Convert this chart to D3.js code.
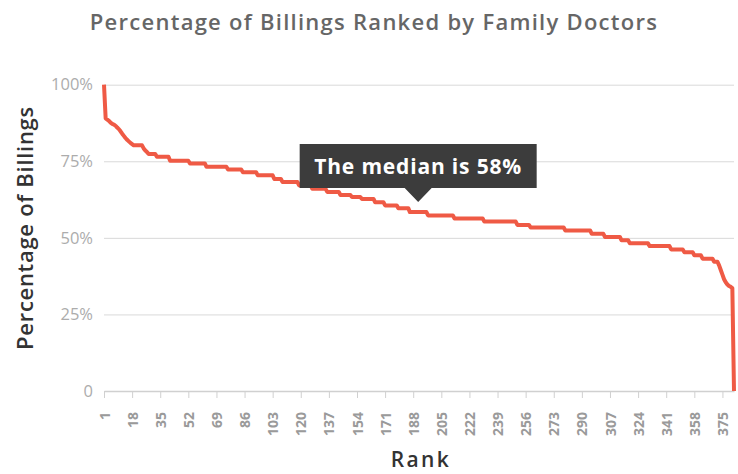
<!DOCTYPE html>
<html>
<head>
<meta charset="utf-8">
<script src="https://cdn.jsdelivr.net/npm/d3@7"></script>
<style>
  html, body { margin: 0; padding: 0; background: #fff; }
  svg { display: block; }
</style>
</head>
<body>
<svg id="chart" width="738" height="474"></svg>
<script>
// ---- data ----
const chartTitle = "Percentage of Billings Ranked by Family Doctors";
const yAxisTitle = "Percentage of Billings";
const xAxisTitle = "Rank";
// percentage of billings for each family doctor, ordered by rank 1..382
const billingPct = [
  100,
  89, 88.6, 88.2,
  87.6, 87.2, 87, 86.6,
  86, 85.5, 84.8, 84, 83.3,
  82.6, 82, 81.5, 81, 80.6,
  80.2, 80.2, 80.2, 80.2, 80.2, 80.2,
  79.2, 78.5, 78,
  77.4, 77.4, 77.4, 77.4, 77.4,
  76.5, 76.5, 76.5, 76.5, 76.5, 76.5, 76.5, 76.5,
  75.2, 75.2, 75.2, 75.2, 75.2, 75.2, 75.2, 75.2, 75.2, 75.2, 75.2, 75.2,
  74.3, 74.3, 74.3, 74.3, 74.3, 74.3, 74.3, 74.3, 74.3, 74.3,
  73.2, 73.2, 73.2, 73.2, 73.2, 73.2, 73.2, 73.2, 73.2, 73.2, 73.2, 73.2, 73.2,
  72.3, 72.3, 72.3, 72.3, 72.3, 72.3, 72.3, 72.3, 72.3,
  71.4, 71.4, 71.4, 71.4, 71.4, 71.4, 71.4, 71.4, 71.4,
  70.4, 70.4, 70.4, 70.4, 70.4, 70.4, 70.4, 70.4, 70.4, 70.4,
  69.2, 69.2, 69.2, 69.2, 69.2,
  68.2, 68.2, 68.2, 68.2, 68.2, 68.2, 68.2, 68.2, 68.2, 68.2,
  67.1, 67.1, 67.1, 67.1, 67.1, 67.1, 67.1, 67.1,
  66, 66, 66, 66, 66, 66, 66, 66, 66,
  65, 65, 65, 65, 65, 65, 65, 65,
  64, 64, 64, 64, 64, 64, 64,
  63.3, 63.3, 63.3, 63.3, 63.3, 63.3,
  62.7, 62.7, 62.7, 62.7, 62.7, 62.7, 62.7, 62.7,
  61.6, 61.6, 61.6, 61.6, 61.6, 61.6,
  60.6, 60.6, 60.6, 60.6, 60.6, 60.6, 60.6, 60.6,
  59.7, 59.7, 59.7, 59.7, 59.7, 59.7, 59.7,
  58.4, 58.4, 58.4, 58.4, 58.4, 58.4, 58.4, 58.4, 58.4, 58.4, 58.4,
  57.3, 57.3, 57.3, 57.3, 57.3, 57.3, 57.3, 57.3, 57.3, 57.3, 57.3, 57.3, 57.3, 57.3, 57.3, 57.3,
  56.3, 56.3, 56.3, 56.3, 56.3, 56.3, 56.3, 56.3, 56.3, 56.3, 56.3, 56.3, 56.3, 56.3, 56.3, 56.3, 56.3, 56.3,
  55.3, 55.3, 55.3, 55.3, 55.3, 55.3, 55.3, 55.3, 55.3, 55.3, 55.3, 55.3, 55.3, 55.3, 55.3, 55.3, 55.3, 55.3, 55.3, 55.3,
  54.2, 54.2, 54.2, 54.2, 54.2, 54.2, 54.2, 54.2,
  53.4, 53.4, 53.4, 53.4, 53.4, 53.4, 53.4, 53.4, 53.4, 53.4, 53.4, 53.4, 53.4, 53.4, 53.4, 53.4, 53.4, 53.4, 53.4, 53.4, 53.4,
  52.4, 52.4, 52.4, 52.4, 52.4, 52.4, 52.4, 52.4, 52.4, 52.4, 52.4, 52.4, 52.4, 52.4, 52.4, 52.4,
  51.3, 51.3, 51.3, 51.3, 51.3, 51.3, 51.3, 51.3,
  50.3, 50.3, 50.3, 50.3, 50.3, 50.3, 50.3, 50.3, 50.3, 50.3,
  49.2, 49.2, 49.2, 49.2, 49.2,
  48.2, 48.2, 48.2, 48.2, 48.2, 48.2, 48.2, 48.2, 48.2, 48.2, 48.2, 48.2,
  47.3, 47.3, 47.3, 47.3, 47.3, 47.3, 47.3, 47.3, 47.3, 47.3, 47.3, 47.3, 47.3,
  46.2, 46.2, 46.2, 46.2, 46.2, 46.2, 46.2, 46.2,
  45.3, 45.3, 45.3, 45.3, 45.3, 45.3,
  44.3, 44.3, 44.3, 44.3, 44.3,
  43.2, 43.2, 43.2, 43.2, 43.2, 43.2, 43.2,
  42.2, 42.2, 42.2,
  41, 39.5, 38, 36.5, 35.5, 34.8, 34.3, 34, 33.6,
  0
];
const ranks = billingPct.map((_, i) => i + 1);
const xTickRanks = [1, 18, 35, 52, 69, 86, 103, 120, 137, 154, 171, 188, 205, 222, 239, 256, 273, 290, 307, 324, 341, 358, 375];
const yTickValues = [0, 25, 50, 75, 100];
const yTickLabels = ["0", "25%", "50%", "75%", "100%"];

// ---- layout ----
const W = 738, H = 474;
const plot = { left: 104, right: 734, top: 84.7, bottom: 391 };
const FONT = "'Open Sans', 'DejaVu Sans', sans-serif";
const lineColor = "#ef5a45";

const svg = d3.select("#chart");

// widen a text to a target width by adjusting letter spacing
function fitWidth(sel, target) {
  const node = sel.node();
  const w = node.getComputedTextLength();
  const n = sel.text().length;
  if (n > 1) sel.attr("letter-spacing", ((target - w) / (n - 1)).toFixed(2));
  return sel;
}

const x = d3.scaleLinear().domain([1, ranks.length]).range([plot.left, plot.right]);
const y = d3.scaleLinear().domain([0, 100]).range([plot.bottom, plot.top]);

// title
fitWidth(svg.append("text")
  .attr("x", 374).attr("y", 30)
  .attr("text-anchor", "middle")
  .attr("font-family", FONT).attr("font-weight", 600)
  .attr("font-size", 22)
  .attr("fill", "#666")
  .text(chartTitle), 567);

// gridlines + y labels
const yAxisG = svg.append("g")
  .attr("transform", `translate(${plot.left},0)`)
  .call(d3.axisLeft(y).tickValues(yTickValues)
    .tickSize(-(plot.right - plot.left))
    .tickPadding(11)
    .tickFormat((d, i) => yTickLabels[i]));
yAxisG.select(".domain").remove();
yAxisG.selectAll(".tick line")
  .attr("stroke", d => d === 0 ? "none" : "#d9d9d9")
  .attr("stroke-width", 1);
yAxisG.selectAll(".tick text")
  .attr("font-family", FONT).attr("font-size", 16.5)
  .attr("fill", "#acacac");

// x axis
const xAxisG = svg.append("g")
  .attr("transform", `translate(0,${plot.bottom})`)
  .call(d3.axisBottom(x).tickValues(xTickRanks).tickSize(7).tickPadding(0).tickSizeOuter(0));
xAxisG.select(".domain").attr("stroke", "#d0d0d0").attr("stroke-width", 1.5);
xAxisG.selectAll(".tick line").attr("stroke", "#d0d0d0");
xAxisG.selectAll(".tick text")
  .attr("font-family", FONT).attr("font-weight", 700).attr("font-size", 14)
  .attr("fill", "#9a9a9a")
  .attr("text-anchor", "end")
  .attr("dy", "0.36em")
  .attr("transform", "translate(0,21) rotate(-90)")
  .attr("x", 0).attr("y", 0);

// axis titles
fitWidth(svg.append("text")
  .attr("transform", `translate(33,${228}) rotate(-90)`)
  .attr("text-anchor", "middle")
  .attr("font-family", FONT).attr("font-weight", 600).attr("font-size", 22)
  .attr("fill", "#333")
  .text(yAxisTitle), 243);

fitWidth(svg.append("text")
  .attr("x", 421).attr("y", 467)
  .attr("text-anchor", "middle")
  .attr("font-family", FONT).attr("font-weight", 600).attr("font-size", 21)
  .attr("fill", "#333")
  .text(xAxisTitle), 58);

// line
const line = d3.line().x((d, i) => x(ranks[i])).y(d => y(d));
svg.append("path")
  .datum(billingPct)
  .attr("d", line)
  .attr("fill", "none")
  .attr("stroke", lineColor)
  .attr("stroke-width", 4)
  .attr("stroke-linejoin", "round")
  .attr("stroke-linecap", "butt");

// median tooltip
const median = d3.median(billingPct);
const medianRank = Math.floor((ranks.length + 1) / 2);
const mx = x(medianRank), my = y(billingPct[medianRank - 1]);
const tipY = my - 10, boxH = 44, boxW = 237, arrowH = 14, arrowW = 13.5;
const boxBottom = tipY - arrowH;
const tip = svg.append("g");
tip.append("path")
  .attr("d", `M${mx - boxW / 2},${boxBottom - boxH} h${boxW} v${boxH} h${-(boxW / 2 - arrowW)} l${-arrowW},${arrowH} l${-arrowW},${-arrowH} h${-(boxW / 2 - arrowW)} Z`)
  .attr("fill", "#3c3c3c");
fitWidth(tip.append("text")
  .attr("x", mx).attr("y", boxBottom - boxH / 2)
  .attr("dy", "0.36em")
  .attr("text-anchor", "middle")
  .attr("font-family", FONT).attr("font-weight", 700).attr("font-size", 21)
  .attr("fill", "#fff")
  .text(`The median is ${Math.round(median)}%`), 207);
</script>
</body>
</html>
